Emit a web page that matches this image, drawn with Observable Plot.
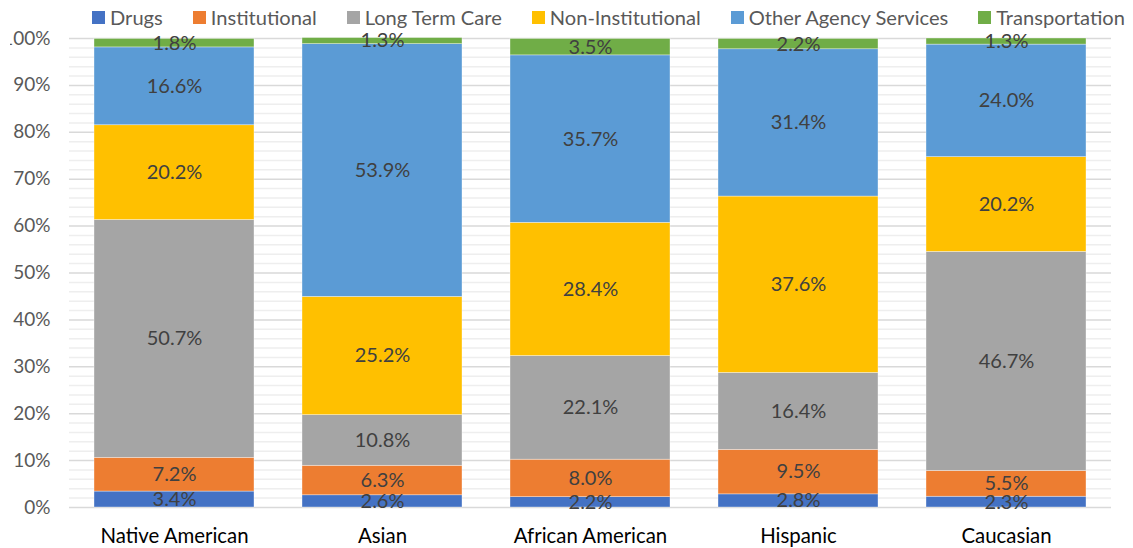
<!DOCTYPE html>
<html>
<head>
<meta charset="utf-8">
<script src="https://cdn.jsdelivr.net/npm/d3@7"></script>
<script src="https://cdn.jsdelivr.net/npm/@observablehq/plot@0.6"></script>
<style>
  body { margin: 0; background: white; font-family: Lato, "Open Sans", sans-serif; position: relative; }
  #legend { position: absolute; top: 0; left: 0; z-index: 2; height: 34px; display: flex; align-items: center; padding-left: 92px; gap: 30px; font-size: 20.1px; color: #595959; }
  #legend .item { display: flex; align-items: center; gap: 5px; white-space: nowrap; }
  #legend .sw { width: 13px; height: 13px; display: inline-block; }
  #chart svg { display: block; clip-path: inset(0 0 0 10px); }
</style>
</head>
<body>
<div id="legend"></div>
<div id="chart"></div>
<script>
const categories = ["Native American", "Asian", "African American", "Hispanic", "Caucasian"];
const seriesNames = ["Drugs", "Institutional", "Long Term Care", "Non-Institutional", "Other Agency Services", "Transportation"];
const colors = ["#4472C4", "#ED7D31", "#A5A5A5", "#FFC000", "#5B9BD5", "#70AD47"];
const drugs = [3.4, 2.6, 2.2, 2.8, 2.3];
const institutional = [7.2, 6.3, 8.0, 9.5, 5.5];
const longTermCare = [50.7, 10.8, 22.1, 16.4, 46.7];
const nonInstitutional = [20.2, 25.2, 28.4, 37.6, 20.2];
const otherAgency = [16.6, 53.9, 35.7, 31.4, 24.0];
const transportation = [1.8, 1.3, 3.5, 2.2, 1.3];
const seriesValues = [drugs, institutional, longTermCare, nonInstitutional, otherAgency, transportation];

const data = [];
seriesNames.forEach((s, i) => {
  categories.forEach((c, j) => data.push({category: c, series: s, value: seriesValues[i][j]}));
});

const legend = document.getElementById("legend");
seriesNames.forEach((s, i) => {
  const it = document.createElement("span");
  it.className = "item";
  it.innerHTML = `<span class="sw" style="background:${colors[i]}"></span><span>${s}</span>`;
  legend.appendChild(it);
});

const chart = Plot.plot({
  width: 1133,
  height: 548,
  marginLeft: 69,
  marginRight: 22,
  marginTop: 38,
  marginBottom: 41,
  style: {fontFamily: "Lato, 'Open Sans', sans-serif", fontSize: "19px", background: "white"},
  x: {domain: categories, label: null, paddingInner: 0.233, paddingOuter: 0.1165},
  y: {domain: [0, 100], label: null},
  color: {domain: seriesNames, range: colors},
  marks: [
    Plot.ruleY(d3.range(0, 101, 2).filter(d => d % 10 !== 0), {stroke: "#eeeeee", strokeWidth: 1.5}),
    Plot.ruleY(d3.range(0, 101, 10), {stroke: "#d9d9d9", strokeWidth: 1.5}),
    Plot.axisY({ticks: d3.range(0, 101, 10), tickSize: 0, tickPadding: 19, tickFormat: d => d + "%", fill: "#595959", fontSize: 19, label: null}),
    Plot.axisX({tickSize: 0, tickPadding: 21, fill: "#000000", fontSize: 20.4, label: null}),
    Plot.barY(data, {x: "category", y: "value", fill: "series", z: "series", stroke: "white", strokeWidth: 0.6, strokeOpacity: 0.6}),
    Plot.text(data, Plot.stackY({x: "category", y: "value", z: "series", text: d => d.value.toFixed(1) + "%", fill: "#404040", fontSize: 20}))
  ]
});
document.getElementById("chart").appendChild(chart);
</script>
</body>
</html>
